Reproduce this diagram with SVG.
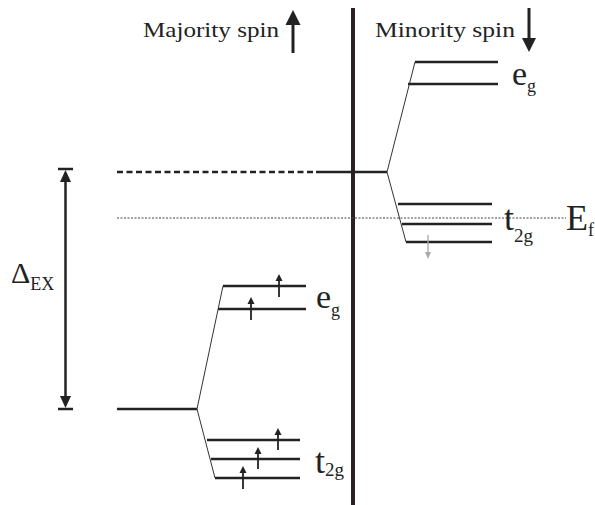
<svg xmlns="http://www.w3.org/2000/svg" width="595" height="505" viewBox="0 0 595 505">
<defs>
<style>
.t{font-family:"Liberation Serif","Times New Roman",serif;fill:#222}
.lv{stroke:#222;stroke-width:2.6;fill:none}
.sl{stroke:#333;stroke-width:1;fill:none}
.sp{stroke:#222;stroke-width:1.8;fill:none}
</style>
</defs>
<rect width="595" height="505" fill="#fff"/>
<g id="title-majority">
<text class="t" font-family="Liberation Serif, serif" x="143" y="37" font-size="21" textLength="136" lengthAdjust="spacingAndGlyphs">Majority spin</text>
<line x1="293" y1="53" x2="293" y2="22" stroke="#222" stroke-width="3"/>
<path d="M285.5,25 L293,10 L300.5,25 Z" fill="#222"/>
</g>
<g id="title-minority">
<text class="t" font-family="Liberation Serif, serif" x="375" y="37" font-size="21" textLength="140" lengthAdjust="spacingAndGlyphs">Minority spin</text>
<line x1="529" y1="8" x2="529" y2="40" stroke="#222" stroke-width="3"/>
<path d="M522,38 L529,52 L536,38 Z" fill="#222"/>
</g>
<g id="divider"><line x1="353" y1="8" x2="353" y2="505" stroke="#2a2022" stroke-width="4"/></g>
<g id="fermi">
<line x1="117" y1="218" x2="566" y2="218" stroke="#444" stroke-width="1" stroke-dasharray="2,1.5"/>
<text class="t" font-family="Liberation Serif, serif" x="566" y="230" font-size="36">E<tspan font-size="18" dy="6">f</tspan></text>
</g>
<g id="minority-center">
<line x1="117" y1="172" x2="316" y2="172" stroke="#222" stroke-width="2.6" stroke-dasharray="6,3.5"/>
<line class="lv" x1="316" y1="172" x2="387" y2="172"/>
</g>
<g id="minority-eg">
<line class="lv" x1="415" y1="62" x2="498" y2="62"/>
<line class="lv" x1="408" y1="84" x2="498" y2="84"/>
<text class="t" font-family="Liberation Serif, serif" x="512" y="85" font-size="34">e<tspan font-size="18" dy="7">g</tspan></text>
</g>
<g id="minority-t2g">
<line class="lv" x1="398" y1="204" x2="492" y2="204"/>
<line class="lv" x1="402" y1="224" x2="492" y2="224"/>
<line class="lv" x1="406" y1="242" x2="492" y2="242"/>
<line x1="428" y1="235" x2="428" y2="254" stroke="#aaa" stroke-width="1.3"/>
<path d="M425,252 L428,259 L431,252 Z" fill="#aaa"/>
<text class="t" font-family="Liberation Serif, serif" x="504" y="230" font-size="36">t<tspan font-size="19" dy="12">2g</tspan></text>
</g>
<g id="majority-center">
<line class="lv" x1="117" y1="409" x2="197" y2="409"/>
</g>
<g id="majority-eg">
<line class="lv" x1="223" y1="286" x2="306" y2="286"/>
<line class="lv" x1="218" y1="309" x2="306" y2="309"/>
<line class="sp" x1="279" y1="297" x2="279" y2="280"/><path d="M275.5,281 L279,274 L282.5,281 Z" fill="#222"/>
<line class="sp" x1="251" y1="320" x2="251" y2="303"/><path d="M247.5,304 L251,297 L254.5,304 Z" fill="#222"/>
<text class="t" font-family="Liberation Serif, serif" x="316" y="308" font-size="34">e<tspan font-size="18" dy="8">g</tspan></text>
</g>
<g id="majority-t2g">
<line class="lv" x1="207" y1="440" x2="300" y2="440"/>
<line class="lv" x1="211" y1="459" x2="300" y2="459"/>
<line class="lv" x1="215" y1="478" x2="300" y2="478"/>
<line class="sp" x1="278" y1="450" x2="278" y2="434"/><path d="M274.5,435 L278,428 L281.5,435 Z" fill="#222"/>
<line class="sp" x1="258" y1="469" x2="258" y2="453"/><path d="M254.5,454 L258,447 L261.5,454 Z" fill="#222"/>
<line class="sp" x1="243" y1="489" x2="243" y2="472"/><path d="M239.5,473 L243,466 L246.5,473 Z" fill="#222"/>
<text class="t" font-family="Liberation Serif, serif" x="315" y="473" font-size="36">t<tspan font-size="19" dy="3">2g</tspan></text>
</g>
<g id="delta-ex">
<line x1="58" y1="169" x2="73" y2="169" stroke="#222" stroke-width="2.5"/>
<line x1="58" y1="409" x2="73" y2="409" stroke="#222" stroke-width="2.5"/>
<line x1="65.5" y1="180" x2="65.5" y2="398" stroke="#222" stroke-width="2.5"/>
<path d="M60,182 L65.5,170 L71,182 Z" fill="#222"/>
<path d="M60,396 L65.5,408 L71,396 Z" fill="#222"/>
<text class="t" font-family="Liberation Serif, serif" x="11" y="283" font-size="30">Δ<tspan font-size="18" dy="7">EX</tspan></text>
</g>
<g id="connectors">
<line class="sl" x1="387" y1="172" x2="415" y2="62"/>
<line class="sl" x1="387" y1="172" x2="406" y2="242"/>
<line class="sl" x1="197" y1="409" x2="223" y2="286"/>
<line class="sl" x1="197" y1="409" x2="215" y2="478"/>
</g>
</svg>
